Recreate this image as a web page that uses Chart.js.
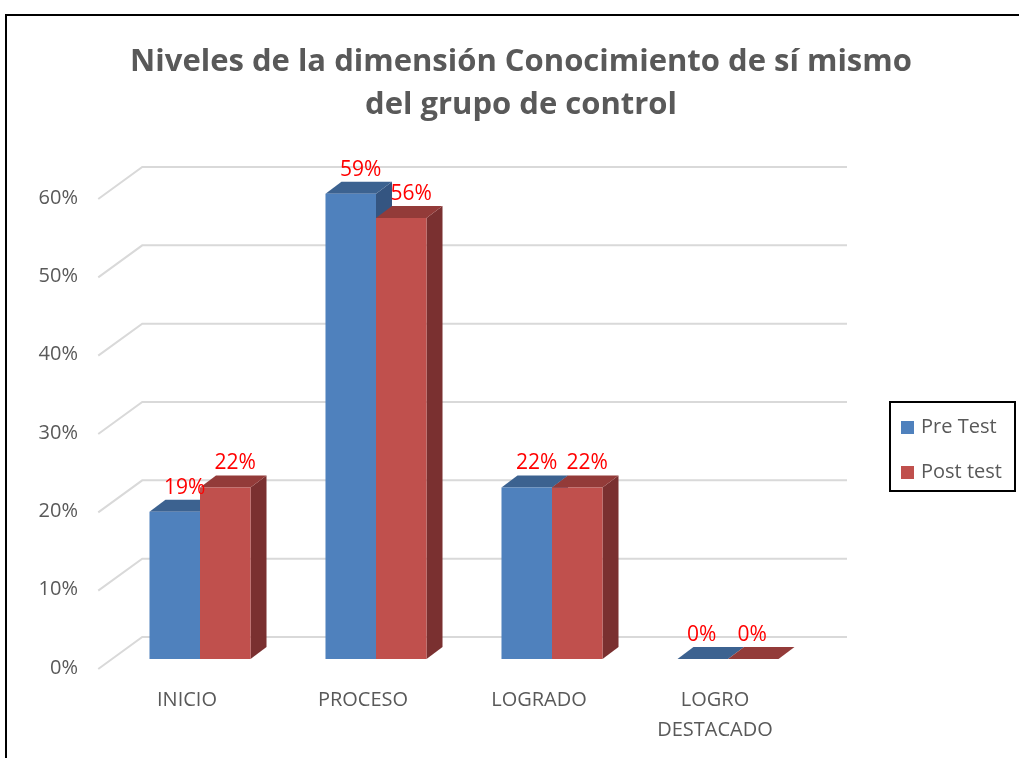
<!DOCTYPE html>
<html>
<head>
<meta charset="utf-8">
<script src="https://cdn.jsdelivr.net/npm/chart.js@4.4.1/dist/chart.umd.min.js"></script>
<style>
  html, body { margin: 0; padding: 0; background: #fff; overflow: hidden; }
  #wrap { position: relative; width: 1019px; height: 758px; }
  #frame { position: absolute; left: 5px; top: 14px; width: 1100px; height: 800px;
           border-top: 2px solid #000; border-left: 2px solid #000; }
  #title { position: absolute; left: 0; top: 38px; width: 1042px; text-align: center;
           font: bold 31px "Open Sans", sans-serif; line-height: 43px; color: #595959; }
  #legend { position: absolute; left: 889px; top: 401px; width: 127px; height: 91px; box-sizing: border-box;
            border: 2px solid #000; font: 20px "Open Sans", sans-serif; color: #595959; }
  .item { position: absolute; left: 10px; height: 28px; line-height: 28px; white-space: nowrap; }
  .item span { display: inline-block; width: 13px; height: 13px; margin-right: 7px; vertical-align: -1px; }
  canvas { position: absolute; left: 0; top: 0; }
</style>
</head>
<body>
<div id="wrap">
  <div id="frame"></div>
  <canvas id="levelChart" width="1019" height="758"></canvas>
  <div id="title">Niveles de la dimensión Conocimiento de sí mismo<br>del grupo de control</div>
  <div id="legend">
    <div class="item" style="top:9px"><span style="background:#4F81BD"></span>Pre Test</div>
    <div class="item" style="top:54px"><span style="background:#C0504D"></span>Post test</div>
  </div>
</div>
<script>
// values (percent)
var categories = ['INICIO', 'PROCESO', 'LOGRADO', ['LOGRO', 'DESTACADO']];
var preTest = [18.8, 59.4, 21.9, 0];
var postTest = [21.9, 56.3, 21.9, 0];
var yTicks = [0, 10, 20, 30, 40, 50, 60];

// ----- fake 3D: back wall gridlines + top / side faces of the bars ----- //
var depth3d = {
  id: 'depth3d',
  beforeDatasetsDraw: function(chart) {
    var ctx = chart.ctx, y = chart.scales.y, a = chart.chartArea;
    ctx.save();
    ctx.strokeStyle = '#d9d9d9';
    ctx.lineWidth = 2;
    yTicks.forEach(function(v) {
      var py = y.getPixelForValue(v);
      ctx.beginPath();
      ctx.moveTo(a.left - 13.75, py + 10);
      ctx.lineTo(a.left + 30.25, py - 22);
      ctx.lineTo(a.right + 31, py - 22);
      ctx.stroke();
    });
    chart.data.datasets.forEach(function(ds, i) {
      chart.getDatasetMeta(i).data.forEach(function(bar) {
        var p = bar.getProps(['x', 'y', 'base', 'width'], true);
        var x0 = p.x - p.width / 2, x1 = p.x + p.width / 2;
        ctx.fillStyle = ds.sideColor;   // side
        ctx.beginPath();
        ctx.moveTo(x1, p.y); ctx.lineTo(x1 + 16, p.y - 12);
        ctx.lineTo(x1 + 16, p.base - 12); ctx.lineTo(x1, p.base);
        ctx.closePath(); ctx.fill();
        ctx.fillStyle = ds.topColor;    // top
        ctx.beginPath();
        ctx.moveTo(x0, p.y); ctx.lineTo(x1, p.y);
        ctx.lineTo(x1 + 16, p.y - 12); ctx.lineTo(x0 + 16, p.y - 12);
        ctx.closePath(); ctx.fill();
      });
    });
    ctx.restore();
  },
  afterDatasetsDraw: function(chart) {
    var ctx = chart.ctx;
    ctx.save();
    ctx.fillStyle = '#FF0000';
    ctx.font = '21px "Open Sans", sans-serif';
    ctx.textAlign = 'center';
    ctx.textBaseline = 'middle';
    chart.data.datasets.forEach(function(ds, i) {
      chart.getDatasetMeta(i).data.forEach(function(bar, j) {
        var v = ds.data[j];
        var shift = v > 0 ? 10 : -1;
        ctx.fillText(Math.round(v) + '%', bar.x + shift, bar.y - 24);
      });
    });
    ctx.restore();
  }
};

var ctx = document.getElementById('levelChart').getContext('2d');
var levelChart = new Chart(ctx, {
  type: 'bar',
  data: {
    labels: categories,
    datasets: [
      { label: 'Pre Test', data: preTest, backgroundColor: '#4F81BD', topColor: '#3C6290', sideColor: '#345581',
        borderWidth: 0, barPercentage: 1, categoryPercentage: 0.574 },
      { label: 'Post test', data: postTest, backgroundColor: '#C0504D', topColor: '#933B39', sideColor: '#7A3030',
        borderWidth: 0, barPercentage: 1, categoryPercentage: 0.574 }
    ]
  },
  options: {
    responsive: false,
    animation: false,
    layout: { padding: { left: 0, right: 203, top: 189, bottom: 0 } },
    scales: {
      x: {
        grid: { display: false, drawTicks: false },
        border: { display: false },
        ticks: { color: '#595959', font: { family: 'Open Sans', size: 20, lineHeight: 1.5 },
                 padding: 26, labelOffset: -13, maxRotation: 0, autoSkip: false },
        afterFit: function(scale) { scale.height = 99; }
      },
      y: {
        min: 0, max: 60,
        grid: { display: false, drawTicks: false },
        border: { display: false },
        ticks: { stepSize: 10, color: '#595959', font: { family: 'Open Sans', size: 20 },
                 padding: 34, labelOffset: 9,
                 callback: function(v) { return v + '%'; } },
        afterFit: function(scale) { scale.width = 112; }
      }
    },
    plugins: {
      legend: { display: false },
      title: { display: false },
      tooltip: { enabled: false }
    }
  },
  plugins: [depth3d]
});
</script>
</body>
</html>
